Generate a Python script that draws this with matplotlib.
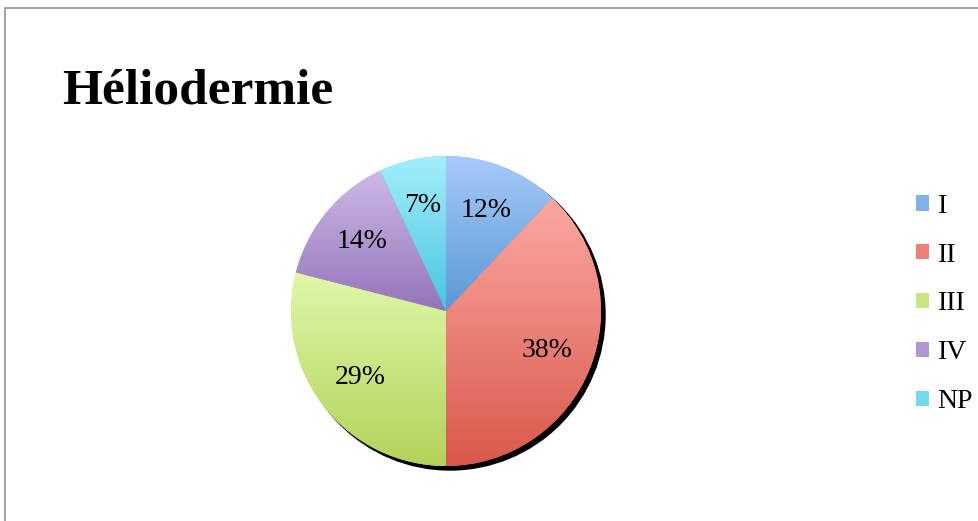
import numpy as np
import matplotlib
matplotlib.use('Agg')
import matplotlib.pyplot as plt
from matplotlib.patches import Circle, Rectangle
from matplotlib.colors import LinearSegmentedColormap

# Data
categories = ['I', 'II', 'III', 'IV', 'NP']
values = [12, 38, 29, 14, 7]
# gradient colours: (top, bottom) for each slice
top_colors = ['#a8cafa', '#fba9a3', '#e0f8aa', '#cebae9', '#a4eefb']
bottom_colors = ['#5a98d6', '#d9584b', '#b2d25a', '#9474ba', '#48c5e1']

plt.rcParams['font.family'] = ['Liberation Serif', 'DejaVu Serif']

fig = plt.figure(figsize=(9.79, 5.21), dpi=100)
ax = fig.add_axes([0, 0, 1, 1])
ax.set_xlim(0, 979)
ax.set_ylim(0, 521)
ax.set_aspect('equal')
ax.axis('off')

cx, cy, r = 446, 210, 155

# shadow
ax.add_patch(Circle((cx + 4, cy - 4), r, color='black', zorder=1))

mid_colors = []
for t, b in zip(top_colors, bottom_colors):
    ct = np.array(matplotlib.colors.to_rgb(t))
    cb = np.array(matplotlib.colors.to_rgb(b))
    mid_colors.append((ct + cb) / 2)

wedges, texts, autotexts = ax.pie(
    values, colors=mid_colors, startangle=90, counterclock=False,
    center=(cx, cy), radius=r, autopct='%.0f%%', pctdistance=0.7,
    wedgeprops=dict(linewidth=0, zorder=2),
    textprops=dict(fontsize=20, color='black'))
ax.set_xlim(0, 979)
ax.set_ylim(0, 521)

# gradient fill for every slice
for w, t, b in zip(wedges, top_colors, bottom_colors):
    verts = w.get_path().vertices
    x0, x1 = verts[:, 0].min(), verts[:, 0].max()
    y0, y1 = verts[:, 1].min(), verts[:, 1].max()
    cmap = LinearSegmentedColormap.from_list('g', [b, t])
    grad = np.linspace(0, 1, 256).reshape(-1, 1)
    im = ax.imshow(grad, cmap=cmap, extent=(x0, x1, y0, y1), origin='lower',
                   aspect='auto', zorder=3, interpolation='bilinear')
    im.set_clip_path(w)

for txt in autotexts:
    txt.set_zorder(5)

# title
fig.text(62 / 979, 417 / 521, 'Héliodermie', fontsize=37, fontweight='bold',
         va='baseline', ha='left')

# legend
ax.legend(wedges, categories, loc='center left',
          bbox_to_anchor=(902 / 979, 217 / 521), bbox_transform=fig.transFigure,
          frameon=False, fontsize=20, handlelength=0.48, handleheight=0.48,
          handletextpad=0.3, labelspacing=0.86, borderpad=0)

# outer frame
ax.add_patch(Rectangle((5.5, -20), 1000, 533, fill=False, edgecolor='#a6a6a6',
                       linewidth=1.5, clip_on=False))

fig.savefig('out.png', dpi=100)
